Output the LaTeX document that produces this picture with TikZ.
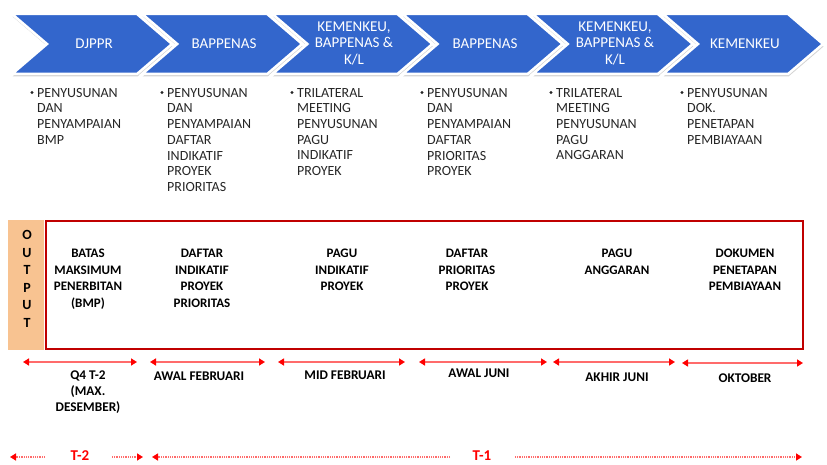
\documentclass[tikz,border=0pt]{standalone}
\usepackage{fontspec}
\setmainfont{Carlito}
\usepackage{tikz}
\usetikzlibrary{arrows.meta,calc,shadows}
\definecolor{chevblue}{HTML}{3366CC}
\definecolor{outorange}{HTML}{F8C391}
\definecolor{boxred}{HTML}{C00000}
\definecolor{spanred}{HTML}{FF6B6B}
\definecolor{tipred}{HTML}{FF0000}

\begin{document}
\begin{tikzpicture}[x=1pt,y=-1pt,
  chev/.style={fill=chevblue,draw=white,line width=2.5pt,
    drop shadow={opacity=0.35,shadow xshift=0.5pt,shadow yshift=-2.5pt}},
  chevtxt/.style={white,align=center,inner sep=0pt,font=\fontsize{15}{16.7}\selectfont},
  task/.style={anchor=north west,align=left,inner sep=0pt,text=black!85,font=\fontsize{14}{15.7}\selectfont},
  dot/.style={circle,fill=black!85,inner sep=0pt,minimum size=3.2pt},
  outtxt/.style={anchor=north,align=center,inner sep=0pt,font=\fontsize{13}{16.5}\selectfont\bfseries},
  when/.style={anchor=north,align=center,inner sep=0pt,font=\fontsize{13.3}{16}\selectfont\bfseries},
  span/.style={spanred,line width=2pt,
    {Triangle[length=6pt,width=7pt,color=tipred]}-{Triangle[length=6pt,width=7pt,color=tipred]}},
  yearline/.style={spanred,line width=1.5pt,dash pattern=on 1pt off 0.8pt,
    -{Triangle[length=6pt,width=7pt,color=tipred]}},
  yeartxt/.style={tipred,inner sep=0pt,font=\fontsize{15}{18}\selectfont\bfseries}
]
  \useasboundingbox (0,0) rectangle (827,465);

  % chevrons
  \foreach \i in {0,...,5}{
    \pgfmathsetmacro{\xa}{12+130.2*\i}
    \draw[chev] (\xa,14) -- ++(125,0) -- ++(35,30) -- ++(-35,30) -- ++(-125,0) -- ++(35,-30) -- cycle;
  }
  \node[chevtxt] (org1) at (94,44) {DJPPR};
  \node[chevtxt] (org2) at (224,44) {BAPPENAS};
  \node[chevtxt] (org3) at (354,43.5) {KEMENKEU,\\BAPPENAS \&\\K/L};
  \node[chevtxt] (org4) at (485,44) {BAPPENAS};
  \node[chevtxt] (org5) at (615,43.5) {KEMENKEU,\\BAPPENAS \&\\K/L};
  \node[chevtxt] (org6) at (745,44) {KEMENKEU};

  % tasks
  \node[task] (job1) at (37,88) {PENYUSUNAN\\DAN\\PENYAMPAIAN\\BMP};
  \node[task] (job2) at (167,88) {PENYUSUNAN\\DAN\\PENYAMPAIAN\\DAFTAR\\INDIKATIF\\PROYEK\\PRIORITAS};
  \node[task] (job3) at (297,88) {TRILATERAL\\MEETING\\PENYUSUNAN\\PAGU\\INDIKATIF\\PROYEK};
  \node[task] (job4) at (427,88) {PENYUSUNAN\\DAN\\PENYAMPAIAN\\DAFTAR\\PRIORITAS\\PROYEK};
  \node[task] (job5) at (556,88) {TRILATERAL\\MEETING\\PENYUSUNAN\\PAGU\\ANGGARAN};
  \node[task] (job6) at (687,88) {PENYUSUNAN\\DOK.\\PENETAPAN\\PEMBIAYAAN};
  \foreach \k in {1,...,6}
    \node[dot] (dot\k) at ($(job\k.north west)+(-5,4.5)$) {};

  % output
  \fill[outorange] (8,220) rectangle (44,350);
  \node[align=center,inner sep=0pt,font=\fontsize{14}{17.6}\selectfont\bfseries] (outword) at (27,279) {O\\U\\T\\P\\U\\T};
  \draw[boxred,line width=2.5pt] (46,221) rectangle (803,349);
  \node[outtxt] (res1) at (88,249) {BATAS\\MAKSIMUM\\PENERBITAN\\(BMP)};
  \node[outtxt] (res2) at (202,249) {DAFTAR\\INDIKATIF\\PROYEK\\PRIORITAS};
  \node[outtxt] (res3) at (342,249) {PAGU\\INDIKATIF\\PROYEK};
  \node[outtxt] (res4) at (467,249) {DAFTAR\\PRIORITAS\\PROYEK};
  \node[outtxt] (res5) at (617,249) {PAGU\\ANGGARAN};
  \node[outtxt] (res6) at (745,249) {DOKUMEN\\PENETAPAN\\PEMBIAYAAN};

  % time spans
  \foreach \k/\xa/\xb/\yy in {1/23/137/362,2/150/265/362,3/278/405/362,4/419/547/362,5/553/675/362,6/682/803/363}{
    \coordinate (spanl\k) at (\xa,\yy);
    \coordinate (spanr\k) at (\xb,\yy);
    \draw[span] (spanl\k) -- (spanr\k);
  }
  \node[when] (date1) at (88,371) {Q4 T-2\\(MAX.\\DESEMBER)};
  \node[when] (date2) at (199,372) {AWAL FEBRUARI};
  \node[when] (date3) at (345,371) {MID FEBRUARI};
  \node[when] (date4) at (479,369) {AWAL JUNI};
  \node[when] (date5) at (617,373) {AKHIR JUNI};
  \node[when] (date6) at (745,374) {OKTOBER};

  % years
  \node[yeartxt] (yr2) at (80,456) {T-2};
  \node[yeartxt] (yr1) at (482,456) {T-1};
  \coordinate (yr2a) at (45,457);
  \coordinate (yr2b) at (10,457);
  \coordinate (yr2c) at (112,457);
  \coordinate (yr2d) at (143,457);
  \coordinate (yr1a) at (450,457);
  \coordinate (yr1b) at (152,457);
  \coordinate (yr1c) at (515,457);
  \coordinate (yr1d) at (802,457);
  \draw[yearline] (yr2a) -- (yr2b);
  \draw[yearline] (yr2c) -- (yr2d);
  \draw[yearline] (yr1a) -- (yr1b);
  \draw[yearline] (yr1c) -- (yr1d);
\end{tikzpicture}
\end{document}
